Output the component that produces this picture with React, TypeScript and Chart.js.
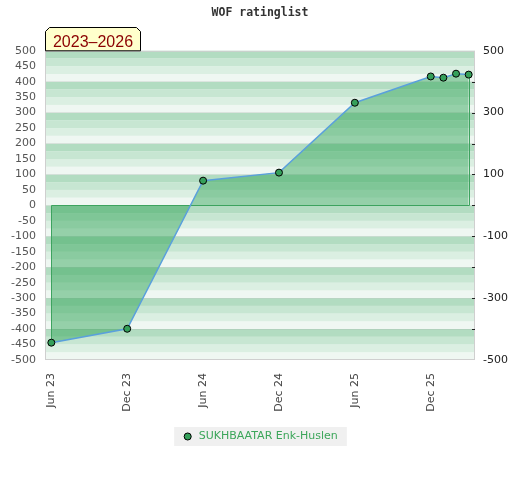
import { useEffect, useRef } from "react";
import { Chart, registerables } from "chart.js";

Chart.register(...registerables);

// ---- data ----
const ratingMonths = ["2023-06", "2023-12", "2024-06", "2024-12", "2025-06", "2025-12", "2026-01", "2026-02", "2026-03"];
const ratingValues = [-444, -399, 80, 106, 332, 417, 413, 426, 423];
const tickMonths = ["2023-06", "2023-12", "2024-06", "2024-12", "2025-06", "2025-12"];
const tickLabels = ["Jun 23", "Dec 23", "Jun 24", "Dec 24", "Jun 25", "Dec 25"];
const playerName = "SUKHBAATAR Enk-Huslen";
const chartTitle = "WOF ratinglist";
const periodLabel = "2023\u20132026";

const BASE_YEAR = 2023;
const BASE_MONTH = 6;
const monthIndex = (s: string) => {
  const [y, m] = s.split("-").map(Number);
  return (y - BASE_YEAR) * 12 + (m - BASE_MONTH);
};

const stripeColors = ["#eff7f2", "#dbefe2", "#c7e6d2", "#b2dcc1"];

const decorPlugin = {
  id: "decor",
  beforeDraw(chart: any) {
    const { ctx, chartArea: a, scales } = chart;
    const y = scales.y;
    ctx.save();
    for (let v = -500; v < 500; v += 25) {
      const k = (((v % 100) + 100) % 100) / 25;
      ctx.fillStyle = stripeColors[k];
      const top = y.getPixelForValue(v + 25);
      const bot = y.getPixelForValue(v);
      ctx.fillRect(a.left, top, a.right - a.left, bot - top);
    }
    const lg = chart.legend;
    if (lg && lg.legendHitBoxes && lg.legendHitBoxes[0]) {
      const h = lg.legendHitBoxes[0];
      ctx.fillStyle = "#f0f0f0";
      ctx.fillRect(h.left - 8, h.top - 4, h.width + 17, h.height + 8);
    }
    ctx.restore();
  },
  beforeDatasetsDraw(chart: any) {
    const { ctx, chartArea: a } = chart;
    ctx.save();
    ctx.strokeStyle = "#cfcfcf";
    ctx.lineWidth = 1;
    ctx.strokeRect(a.left + 0.5, a.top + 0.5, a.right - a.left - 1, a.bottom - a.top - 1);
    ctx.restore();
  },
  beforeDatasetDraw(chart: any, args: any) {
    const { ctx, scales } = chart;
    const x = scales.x;
    const y = scales.y;
    const ds = chart.data.datasets[args.index];
    const pts = ds.data as { x: number; y: number }[];
    const first = pts[0];
    const last = pts[pts.length - 1];
    const y0 = y.getPixelForValue(0);
    ctx.save();
    ctx.strokeStyle = "#3da35f";
    ctx.lineWidth = 1;
    ctx.beginPath();
    const fx = Math.round(x.getPixelForValue(first.x)) + 0.5;
    const lx = Math.round(x.getPixelForValue(last.x)) + 0.5;
    const zy = Math.round(y0) + 0.5;
    ctx.moveTo(fx, y.getPixelForValue(first.y));
    ctx.lineTo(fx, zy);
    ctx.lineTo(lx, zy);
    ctx.lineTo(lx, y.getPixelForValue(last.y));
    ctx.stroke();
    ctx.restore();
  },
  afterDraw(chart: any) {
    const { ctx, chartArea: a, scales } = chart;
    const y2 = scales.y2;
    ctx.save();
    ctx.strokeStyle = "#222";
    ctx.lineWidth = 1;
    ctx.beginPath();
    y2.ticks.forEach((t: any) => {
      if (Math.abs(t.value) >= 500) return;
      const py = Math.round(y2.getPixelForValue(t.value)) + 0.5;
      ctx.moveTo(a.right - 3, py);
      ctx.lineTo(a.right, py);
    });
    ctx.stroke();
    const left = a.left + 0.5;
    const right = 140.5;
    const top = 27.5;
    const bottom = a.top;
    const c = 4;
    ctx.beginPath();
    ctx.moveTo(left, bottom);
    ctx.lineTo(left, top + c);
    ctx.lineTo(left + c, top);
    ctx.lineTo(right - c, top);
    ctx.lineTo(right, top + c);
    ctx.lineTo(right, bottom);
    ctx.closePath();
    ctx.fillStyle = "#ffffcc";
    ctx.fill();
    ctx.strokeStyle = "#000";
    ctx.stroke();
    ctx.fillStyle = "#8b0000";
    ctx.font = "16px 'Liberation Sans'";
    ctx.textAlign = "center";
    ctx.textBaseline = "alphabetic";
    ctx.fillText(periodLabel, (left + right) / 2, 46.5);
    ctx.restore();
  },
};

export default function App() {
  const ref = useRef<HTMLCanvasElement>(null);
  useEffect(() => {
    const canvas = ref.current;
    if (!canvas) return;
    const points = ratingMonths.map((m, i) => ({ x: monthIndex(m), y: ratingValues[i] }));
    const tickVals = tickMonths.map(monthIndex);
    const chart = new Chart(canvas, {
      type: "line",
      data: {
        datasets: [
          {
            label: playerName,
            data: points,
            fill: "origin",
            backgroundColor: "rgba(40,160,80,0.45)",
            borderColor: "#5aa0dc",
            borderWidth: 1.5,
            tension: 0,
            pointRadius: 3.5,
            pointHoverRadius: 3.5,
            pointBackgroundColor: "#35a05a",
            pointBorderColor: "#000",
            pointBorderWidth: 1,
          },
        ],
      },
      options: {
        responsive: false,
        animation: false,
        devicePixelRatio: 1,
        layout: { padding: { bottom: 28 } },
        plugins: {
          title: {
            display: true,
            text: chartTitle,
            color: "#333",
            font: { family: "'DejaVu Sans Mono'", size: 11.5, weight: "bold" },
            padding: { top: 6, bottom: 31 },
          },
          legend: {
            position: "bottom",
            labels: {
              usePointStyle: true,
              boxHeight: 5,
              boxWidth: 16,
              color: "#3ca65a",
              font: { family: "'DejaVu Sans'", size: 11 },
              padding: 10,
            },
          },
          tooltip: { enabled: false },
        },
        scales: {
          x: {
            type: "linear",
            min: -0.5,
            max: 33.5,
            grid: { display: false, drawTicks: false },
            border: { display: false },
            afterBuildTicks: (s: any) => {
              s.ticks = tickVals.map((v) => ({ value: v }));
            },
            afterFit: (s: any) => {
              s.height = 61;
            },
            ticks: {
              autoSkip: false,
              maxRotation: 90,
              minRotation: 90,
              padding: 13,
              color: "#444",
              font: { family: "'DejaVu Sans'", size: 11 },
              callback: (v: any) => {
                const i = tickVals.indexOf(Number(v));
                return i >= 0 ? tickLabels[i] : "";
              },
            },
          },
          y: {
            position: "left",
            min: -500,
            max: 500,
            grid: {
              drawTicks: false,
              color: (c: any) => (c.tick && c.tick.value % 100 === 0 && Math.abs(c.tick.value) < 500 ? "rgba(0,0,0,0.07)" : "rgba(0,0,0,0)"),
            },
            border: { display: false },
            afterFit: (s: any) => {
              s.width = 45;
            },
            ticks: {
              autoSkip: false,
              stepSize: 50,
              padding: 9,
              color: "#555",
              font: { family: "'DejaVu Sans'", size: 11 },
            },
          },
          y2: {
            position: "right",
            min: -500,
            max: 500,
            grid: { display: false, drawTicks: false },
            border: { display: false },
            afterFit: (s: any) => {
              s.width = 45;
            },
            ticks: {
              autoSkip: false,
              stepSize: 100,
              padding: 8,
              color: "#222",
              font: { family: "'DejaVu Sans'", size: 11 },
              callback: (v: any) => (Math.abs(Number(v) / 100) % 2 === 1 ? String(v) : ""),
            },
          },
        },
      },
      plugins: [decorPlugin],
    });
    return () => chart.destroy();
  }, []);
  return (
    <div style={{ position: "absolute", left: 0, top: 0, width: 520, height: 480 }}>
      <canvas ref={ref} width={520} height={480} style={{ width: 520, height: 480, display: "block" }} />
    </div>
  );
}
